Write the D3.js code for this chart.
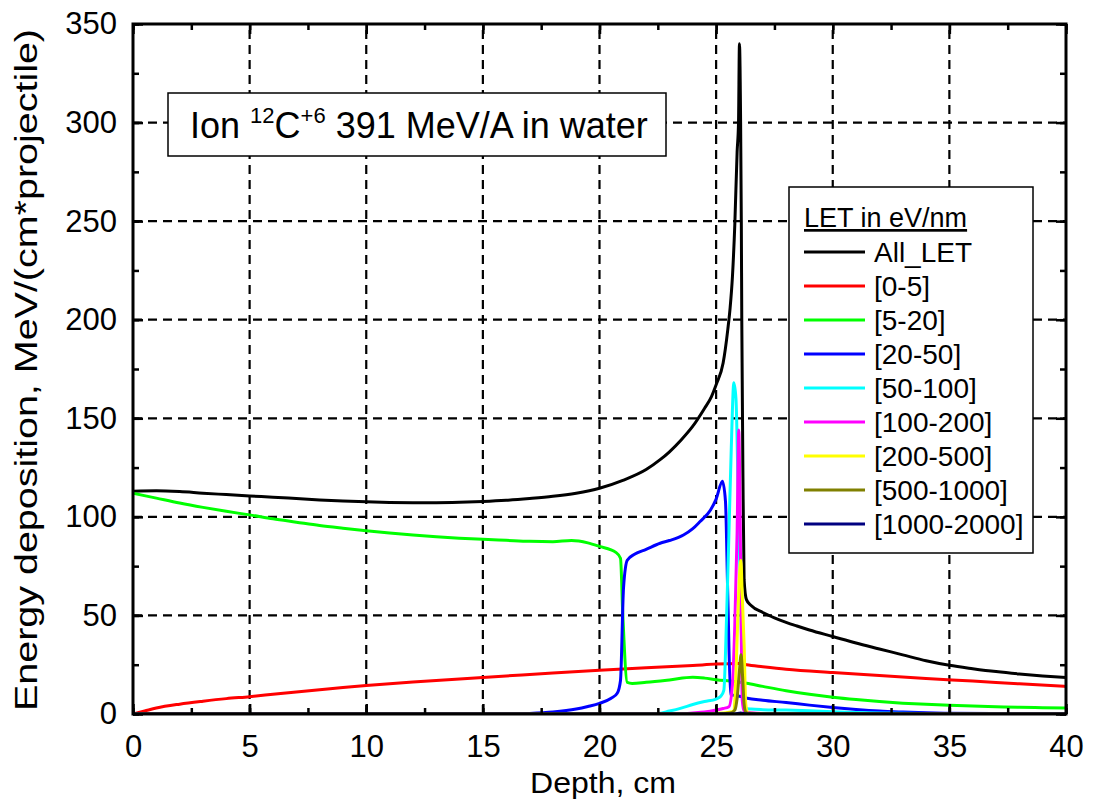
<!DOCTYPE html>
<html>
<head>
<meta charset="utf-8">
<script src="https://cdn.jsdelivr.net/npm/d3@7"></script>
<style>
  body { margin: 0; background: #fff; }
  text { font-family: "Liberation Sans", Arial, sans-serif; fill: #000; }
</style>
</head>
<body>
<div id="vis"></div>
<script>
// Depth (cm) / energy deposition pairs
var allLet = [[0,113],[1,113.2],[2,112.8],[3,112],[4,111.3],[5,110.6],[6,110],[7,109.3],[8,108.6],[9,108],[10,107.6],[11,107.3],[12,107.2],[13,107.2],[14,107.4],[15,107.8],[16,108.4],[17,109.3],[18,110.4],[19,112],[20,114.5],[21,118.5],[22,124],[22.6,129],[23,133],[23.5,139],[24,146],[24.5,155],[24.8,161],[25,167],[25.3,178],[25.5,195],[25.6,206],[25.7,222],[25.8,248],[25.9,285],[25.96,300],[26.0,340],[26.05,300],[26.08,250],[26.1,200],[26.15,120],[26.2,68],[26.3,58],[26.5,55],[27,51.5],[27.5,48.8],[28,46.5],[28.5,44.5],[29,42.6],[30,39.3],[31,36],[32,33],[33,30],[34,27],[35,24.7],[36,23],[37,21.5],[38,20.3],[39,19.3],[40,18.5]];
var let0_5 = [[0,0],[0.5,1.5],[1,3],[2,5],[3,6.5],[4,7.8],[5,8.8],[6,10],[7,11.2],[8,12.3],[9,13.4],[10,14.4],[12,16.2],[14,17.8],[16,19.3],[18,20.8],[20,22.2],[22,23.5],[24,24.6],[25,25.3],[26,25.6],[26.3,25],[27,24],[28,22.7],[30,21],[32,19.5],[34,18],[36,16.7],[38,15.3],[40,14]];
var let5_20 = [[0,112],[1,109.5],[2,107],[3,104.8],[4,102.8],[5,101],[6,99],[7,97.3],[8,95.6],[9,94.2],[10,92.9],[11,91.8],[12,90.8],[13,89.9],[14,89.2],[15,88.6],[16,88.1],[17,87.6],[18,87.4],[18.8,88],[19.5,86.8],[20,85],[20.7,82],[20.9,79],[21.0,50],[21.19,16],[21.4,15.5],[22,16.1],[23,17.3],[24,18.6],[24.5,18.2],[25,17.4],[25.8,16.5],[26.3,15.6],[27,14],[28,11.8],[29,10],[30,8.5],[31,7.3],[32,6.3],[33,5.5],[34,4.9],[35,4.4],[36,4],[37,3.7],[38,3.4],[39,3.2],[40,3]];
var let20_50 = [[0,0],[16,0],[17,0.3],[18,1],[19,2.5],[19.5,3.8],[20,5.4],[20.5,8],[20.76,10.5],[20.9,17],[21.03,64],[21.19,78],[21.5,81],[22,83.5],[22.6,86.6],[23,88],[23.6,90.8],[24,94],[24.3,97.5],[24.76,103.5],[25,109],[25.27,118],[25.4,108],[25.5,60],[25.62,10],[26,9],[26.33,8],[27,7],[28,5.8],[29,4.5],[30,3.3],[31,2.3],[32,1.5],[33,1],[34,0.6],[35,0.4],[37,0.2],[40,0.1]];
var let50_100 = [[0,0],[22,0],[22.5,0.2],[23,1.5],[23.5,3],[24,4.8],[24.5,6.3],[25,7.6],[25.2,9],[25.33,12],[25.45,50],[25.55,92],[25.65,135],[25.76,168],[25.85,160],[25.95,110],[26.05,58],[26.15,15],[26.22,3],[26.5,2.5],[27,2.2],[28,2],[29,1.6],[30,1.2],[31,0.8],[32,0.5],[34,0.2],[36,0.1],[40,0]];
var let100_200 = [[0,0],[23,0],[23.5,0.1],[24,0.5],[24.5,1],[25,2],[25.3,2.8],[25.55,3.7],[25.7,15],[25.8,45],[25.9,92],[25.97,144],[26.02,110],[26.07,50],[26.12,7],[26.2,1.5],[26.5,0.6],[27,0.3],[28,0.2],[30,0.1],[40,0]];
var let200_500 = [[0,0],[24,0],[25,0.3],[25.5,0.8],[25.76,1.5],[25.85,20],[25.92,45],[26.0,70],[26.06,78],[26.12,60],[26.2,35],[26.27,5],[26.35,0.5],[27,0.2],[40,0]];
var let500_1000 = [[0,0],[25,0],[25.6,0.5],[25.8,2],[25.9,8],[26.0,22],[26.07,30],[26.13,20],[26.2,5],[26.27,1],[26.4,0.2],[27,0],[40,0]];
var let1000_2000 = [[0,0],[25.8,0],[26.05,0.5],[26.3,0],[40,0]];

var seriesNames = ["All_LET", "[0-5]", "[5-20]", "[20-50]", "[50-100]", "[100-200]", "[200-500]", "[500-1000]", "[1000-2000]"];
var seriesData = [allLet, let0_5, let5_20, let20_50, let50_100, let100_200, let200_500, let500_1000, let1000_2000];
var seriesColors = ["#000000", "#ff0000", "#00ff00", "#0000ff", "#00ffff", "#ff00ff", "#ffff00", "#808000", "#000080"];

var xTicks = [0, 5, 10, 15, 20, 25, 30, 35, 40];
var yTicks = [0, 50, 100, 150, 200, 250, 300, 350];

var width = 1093, height = 803;
var margin = {left: 133, right: 27, top: 24, bottom: 89};

var svg = d3.select("#vis").append("svg")
    .attr("width", width)
    .attr("height", height);

var x = d3.scaleLinear().domain([0, 40]).range([margin.left, width - margin.right]);
var y = d3.scaleLinear().domain([0, 350]).range([height - margin.bottom, margin.top]);

svg.append("defs").append("clipPath").attr("id", "plotclip")
    .append("rect")
    .attr("x", x(0)).attr("y", y(350))
    .attr("width", x(40) - x(0)).attr("height", y(0) - y(350));

// dashed grid
var grid = svg.append("g").attr("class", "grid");
grid.selectAll(".vg").data(xTicks.slice(1, -1)).enter().append("line")
    .attr("x1", d => x(d)).attr("x2", d => x(d))
    .attr("y1", y(0)).attr("y2", y(350))
    .attr("stroke", "#000").attr("stroke-width", 2.2).attr("stroke-dasharray", "9,6");
grid.selectAll(".hg").data(yTicks.slice(1, -1)).enter().append("line")
    .attr("y1", d => y(d)).attr("y2", d => y(d))
    .attr("x1", x(0)).attr("x2", x(40))
    .attr("stroke", "#000").attr("stroke-width", 2.2).attr("stroke-dasharray", "9,6");

// curves
var line = d3.line()
    .x(d => x(d[0]))
    .y(d => y(d[1]))
    .curve(d3.curveMonotoneX);

svg.append("g").attr("clip-path", "url(#plotclip)")
    .selectAll("path").data(seriesData).enter().append("path")
    .attr("d", line)
    .attr("fill", "none")
    .attr("stroke", (d, i) => seriesColors[i])
    .attr("stroke-width", 3)
    .attr("stroke-linejoin", "round");

// axes on all four sides, ticks pointing inwards
var xMinor = d3.range(0, 40.01, 2.5);
var yMinor = d3.range(0, 350.01, 25);

function addAxis(axis, tr) {
    var g = svg.append("g").attr("transform", tr).call(axis);
    g.select(".domain").remove();
    g.selectAll("line").attr("stroke", "#000").attr("stroke-width", 2.5);
    return g;
}

addAxis(d3.axisBottom(x).tickValues(xMinor).tickSize(-6).tickFormat(""), "translate(0," + y(0) + ")");
addAxis(d3.axisTop(x).tickValues(xMinor).tickSize(-6).tickFormat(""), "translate(0," + y(350) + ")");
addAxis(d3.axisLeft(y).tickValues(yMinor).tickSize(-6).tickFormat(""), "translate(" + x(0) + ",0)");
addAxis(d3.axisRight(y).tickValues(yMinor).tickSize(-6).tickFormat(""), "translate(" + x(40) + ",0)");

var xb = addAxis(d3.axisBottom(x).tickValues(xTicks).tickSize(-10).tickPadding(21), "translate(0," + y(0) + ")");
xb.selectAll("text").attr("font-size", 31).attr("font-family", "Liberation Sans, Arial, sans-serif");
var yl = addAxis(d3.axisLeft(y).tickValues(yTicks).tickSize(-10).tickPadding(16), "translate(" + x(0) + ",0)");
yl.selectAll("text").attr("font-size", 31).attr("font-family", "Liberation Sans, Arial, sans-serif");
addAxis(d3.axisTop(x).tickValues(xTicks).tickSize(-10).tickFormat(""), "translate(0," + y(350) + ")");
addAxis(d3.axisRight(y).tickValues(yTicks).tickSize(-10).tickFormat(""), "translate(" + x(40) + ",0)");

// frame
svg.append("rect")
    .attr("x", x(0)).attr("y", y(350))
    .attr("width", x(40) - x(0)).attr("height", y(0) - y(350))
    .attr("fill", "none").attr("stroke", "#000").attr("stroke-width", 3);

// axis titles
svg.append("text")
    .attr("x", 603).attr("y", 793)
    .attr("text-anchor", "middle").attr("font-size", 29)
    .attr("textLength", 146).attr("lengthAdjust", "spacingAndGlyphs")
    .text("Depth, cm");
svg.append("text")
    .attr("transform", "translate(37,370) rotate(-90)")
    .attr("text-anchor", "middle").attr("font-size", 32)
    .attr("textLength", 682).attr("lengthAdjust", "spacingAndGlyphs")
    .text("Energy deposition, MeV/(cm*projectile)");

// title box
svg.append("rect")
    .attr("x", 168).attr("y", 93).attr("width", 498).attr("height", 63)
    .attr("fill", "#fff").attr("stroke", "#000").attr("stroke-width", 1.5);
var title = svg.append("text").attr("x", 190).attr("y", 138).attr("font-size", 36);
title.append("tspan").text("Ion ");
title.append("tspan").attr("font-size", 22).attr("dy", -15).text("12");
title.append("tspan").attr("dy", 15).text("C");
title.append("tspan").attr("font-size", 22).attr("dy", -15).text("+6");
title.append("tspan").attr("dy", 15).text(" 391 MeV/A in water");

// legend
var legend = svg.append("g").attr("transform", "translate(789,187)");
legend.append("rect")
    .attr("width", 244).attr("height", 366)
    .attr("fill", "#fff").attr("stroke", "#000").attr("stroke-width", 1.5);
legend.append("text").attr("x", 15).attr("y", 40).attr("font-size", 27)
    .attr("text-decoration", "underline")
    .text("LET in eV/nm");
var rows = legend.selectAll(".row").data(seriesNames).enter().append("g")
    .attr("transform", (d, i) => "translate(0," + (65 + i * 34) + ")");
rows.append("line")
    .attr("x1", 15).attr("x2", 76)
    .attr("stroke", (d, i) => seriesColors[i]).attr("stroke-width", 3);
rows.append("text")
    .attr("x", 85).attr("y", 10).attr("font-size", 28)
    .text(d => d);
</script>
</body>
</html>
